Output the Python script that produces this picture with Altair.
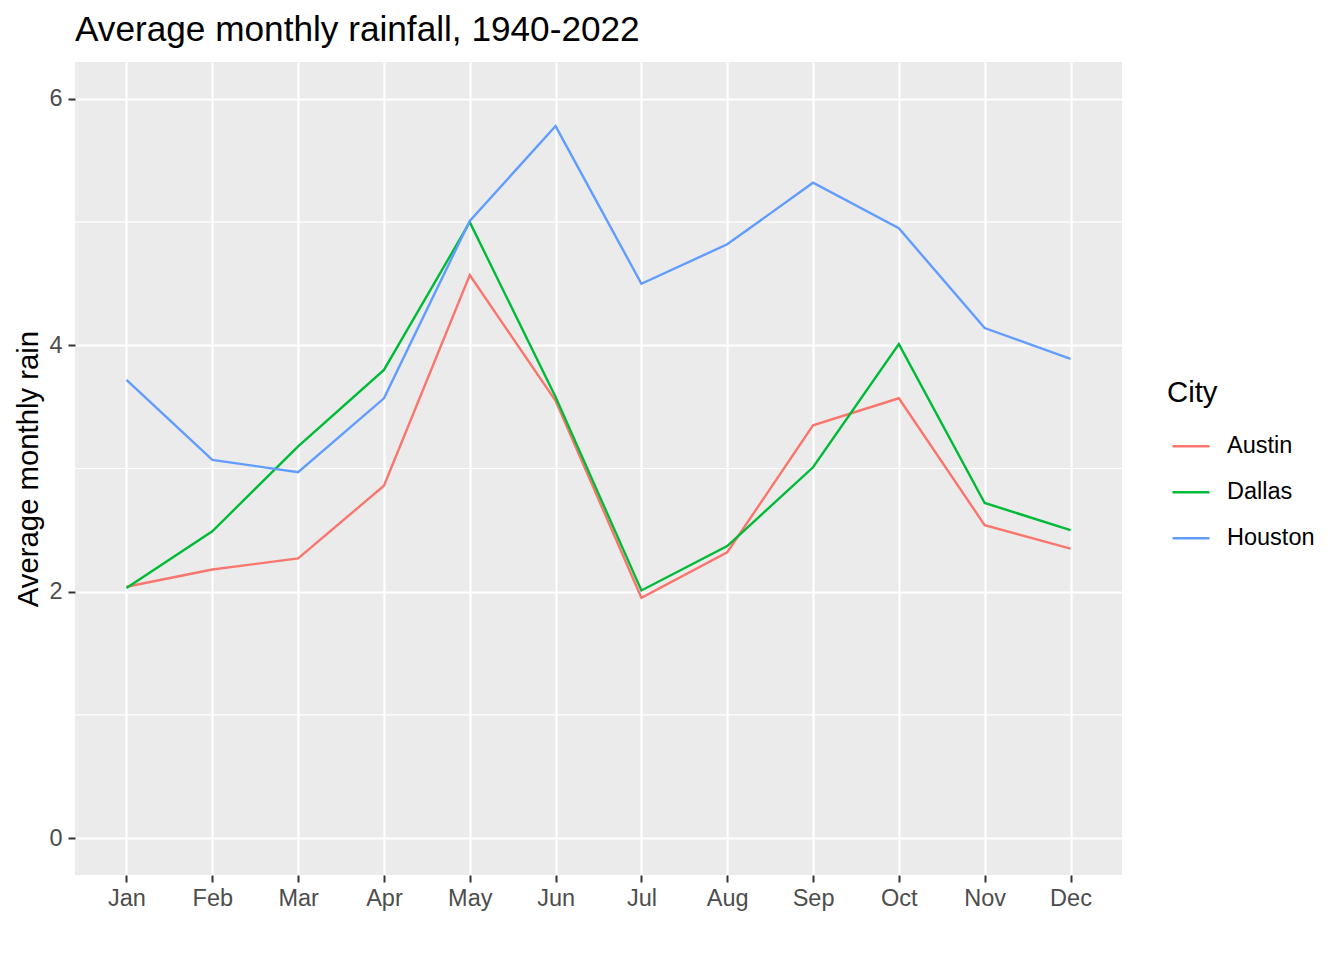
import altair as alt
import pandas as pd

months = ["Jan", "Feb", "Mar", "Apr", "May", "Jun", "Jul", "Aug", "Sep", "Oct", "Nov", "Dec"]
austin = [2.04, 2.18, 2.27, 2.86, 4.57, 3.55, 1.95, 2.32, 3.35, 3.57, 2.54, 2.35]
dallas = [2.03, 2.49, 3.18, 3.80, 5.00, 3.58, 2.01, 2.37, 3.01, 4.01, 2.72, 2.50]
houston = [3.72, 3.07, 2.97, 3.57, 5.01, 5.78, 4.50, 4.82, 5.32, 4.95, 4.14, 3.89]
cities = ["Austin", "Dallas", "Houston"]
city_colors = ["#F8766D", "#00BA38", "#619CFF"]
major_ticks = [0, 2, 4, 6]
minor_ticks = [1, 3, 5]

rows = []
for city, vals in zip(cities, [austin, dallas, houston]):
    for m, v in zip(months, vals):
        rows.append({"Month": m, "City": city, "Rain": v})
df = pd.DataFrame(rows)
minor_df = pd.DataFrame({"v": minor_ticks})

FONT = "Liberation Sans"

y_scale = alt.Scale(domain=[-0.3, 6.3], nice=False, zero=False)
y_axis = alt.Axis(
    title="Average monthly rain",
    titleFontSize=29.3,
    titleFont=FONT,
    titleFontWeight="normal",
    titleColor="black",
    titlePadding=5,
    values=major_ticks,
    labelFontSize=23.5,
    labelColor="#4D4D4D",
    labelFont=FONT,
    labelPadding=6,
    tickSize=7,
    tickWidth=2,
    tickColor="#333333",
    domain=False,
    grid=True,
    gridColor="white",
    gridWidth=2.2,
)

minor = alt.Chart(minor_df).mark_rule(color="white", strokeWidth=1.1).encode(
    y=alt.Y("v:Q", scale=y_scale, axis=y_axis)
)

lines = alt.Chart(df).mark_line(strokeWidth=2.4).encode(
    x=alt.X(
        "Month:N",
        sort=months,
        scale=alt.Scale(type="point", padding=0.6),
        axis=alt.Axis(
            title=None,
            labelAngle=0,
            labelFontSize=23.5,
            labelColor="#4D4D4D",
            labelFont=FONT,
            labelPadding=4,
            tickSize=7,
            tickWidth=2,
            tickColor="#333333",
            domain=False,
            grid=True,
            gridColor="white",
            gridWidth=2.2,
        ),
    ),
    y=alt.Y("Rain:Q", scale=y_scale, axis=y_axis),
    color=alt.Color(
        "City:N",
        scale=alt.Scale(domain=cities, range=city_colors),
        legend=alt.Legend(
            title="City",
            orient="none",
            legendX=1092,
            legendY=317,
            titleFontSize=29.3,
            titleFont=FONT,
            titleFontWeight="normal",
            titleColor="black",
            titlePadding=18,
            labelFontSize=23.5,
            labelFont=FONT,
            labelColor="black",
            labelOffset=16,
            symbolType="stroke",
            symbolSize=1369,
            symbolStrokeWidth=2.4,
            symbolOffset=4,
            rowPadding=14,
            padding=0,
        ),
    ),
    detail="City:N",
)

chart = (
    alt.layer(minor, lines)
    .properties(
        width=1047,
        height=813,
        padding={"left": 67, "top": 54, "right": 213, "bottom": 77},
        autosize=alt.AutoSizeParams(type="none"),
        background="white",
        title=alt.Title(
            "Average monthly rainfall, 1940-2022",
            anchor="start",
            frame="group",
            font=FONT,
            fontSize=35.2,
            fontWeight="normal",
            color="black",
            baseline="top",
            offset=14,
        ),
    )
    .configure_view(fill="#EBEBEB", strokeWidth=0)
)

chart.save("out.html", embed_options={"renderer": "svg", "actions": False})
